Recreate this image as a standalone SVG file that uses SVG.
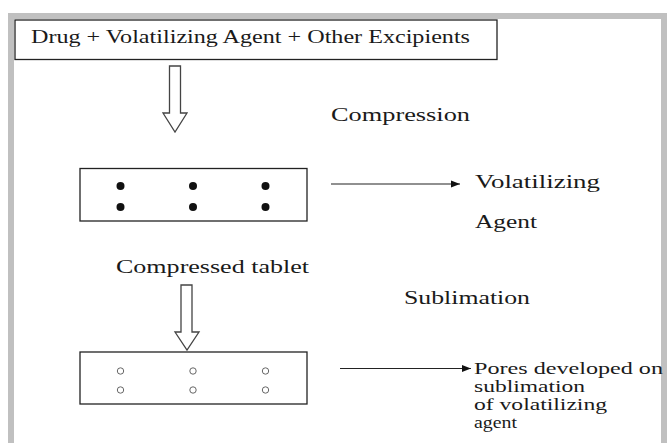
<svg xmlns="http://www.w3.org/2000/svg" width="667" height="443" viewBox="0 0 667 443">
<defs>
<style>
text{font-family:"Liberation Serif","Times New Roman",serif;font-size:18px;fill:#1a1a1a}
.s{font-size:16px}
.box{fill:#fff;stroke:#222;stroke-width:1.3}
.blk{fill:#fff;stroke:#444;stroke-width:1.3;stroke-linejoin:miter}
.ln{stroke:#222;stroke-width:1.2;fill:none}
.dot{fill:#111}
.pore{fill:#fff;stroke:#666;stroke-width:1}
</style>
<marker id="ah" markerWidth="10" markerHeight="8" refX="9" refY="4" orient="auto" markerUnits="userSpaceOnUse">
<path d="M0,0.5 L9,4 L0,7.5 Z" fill="#111"/>
</marker>
</defs>
<rect width="667" height="443" fill="#fff"/>
<g id="frame" fill="#c0c0c0">
<rect x="8" y="13" width="659" height="6"/>
<rect x="8" y="13" width="6" height="430"/>
<rect x="661" y="13" width="6" height="430"/>
</g>
<g id="node-mixture">
<rect class="box" x="15" y="20" width="482" height="39.5"/>
<text x="31" y="43" textLength="439" lengthAdjust="spacingAndGlyphs">Drug + Volatilizing Agent + Other Excipients</text>
</g>
<g id="node-tablet">
<rect class="box" x="80" y="168.5" width="227" height="52.5"/>
<circle class="dot" cx="120.5" cy="186" r="4"/>
<circle class="dot" cx="193" cy="186" r="4"/>
<circle class="dot" cx="265.5" cy="186" r="4"/>
<circle class="dot" cx="120.5" cy="207" r="4"/>
<circle class="dot" cx="193" cy="207" r="4"/>
<circle class="dot" cx="265.5" cy="207" r="4"/>
<text x="116" y="273" textLength="193" lengthAdjust="spacingAndGlyphs">Compressed tablet</text>
</g>
<g id="node-porous">
<rect class="box" x="80" y="352" width="227" height="52"/>
<circle class="pore" cx="120.5" cy="371" r="3.2"/>
<circle class="pore" cx="193" cy="371" r="3.2"/>
<circle class="pore" cx="265.5" cy="371" r="3.2"/>
<circle class="pore" cx="120.5" cy="390" r="3.2"/>
<circle class="pore" cx="193" cy="390" r="3.2"/>
<circle class="pore" cx="265.5" cy="390" r="3.2"/>
</g>
<g id="label-volatilizing">
<text x="475" y="188" textLength="125" lengthAdjust="spacingAndGlyphs">Volatilizing</text>
<text x="475" y="228" textLength="62" lengthAdjust="spacingAndGlyphs">Agent</text>
</g>
<g id="label-pores">
<text class="s" x="474" y="374" textLength="189" lengthAdjust="spacingAndGlyphs">Pores developed on</text>
<text class="s" x="474" y="392" textLength="111" lengthAdjust="spacingAndGlyphs">sublimation</text>
<text class="s" x="474" y="410" textLength="133" lengthAdjust="spacingAndGlyphs">of volatilizing</text>
<text class="s" x="474" y="428" textLength="43" lengthAdjust="spacingAndGlyphs">agent</text>
</g>
<g id="connectors">
<polygon class="blk" points="169.5,66 180.5,66 180.5,113 187,113 175,132 163,113 169.5,113"/>
<text x="331" y="121" textLength="139" lengthAdjust="spacingAndGlyphs">Compression</text>
<polygon class="blk" points="181,285 192,285 192,332 199,332 187,350 175,332 181,332"/>
<text x="404" y="304" textLength="126" lengthAdjust="spacingAndGlyphs">Sublimation</text>
<line class="ln" x1="331" y1="184" x2="460" y2="184" marker-end="url(#ah)"/>
<line class="ln" x1="340" y1="368.5" x2="471" y2="368.5" marker-end="url(#ah)"/>
</g>
</svg>
